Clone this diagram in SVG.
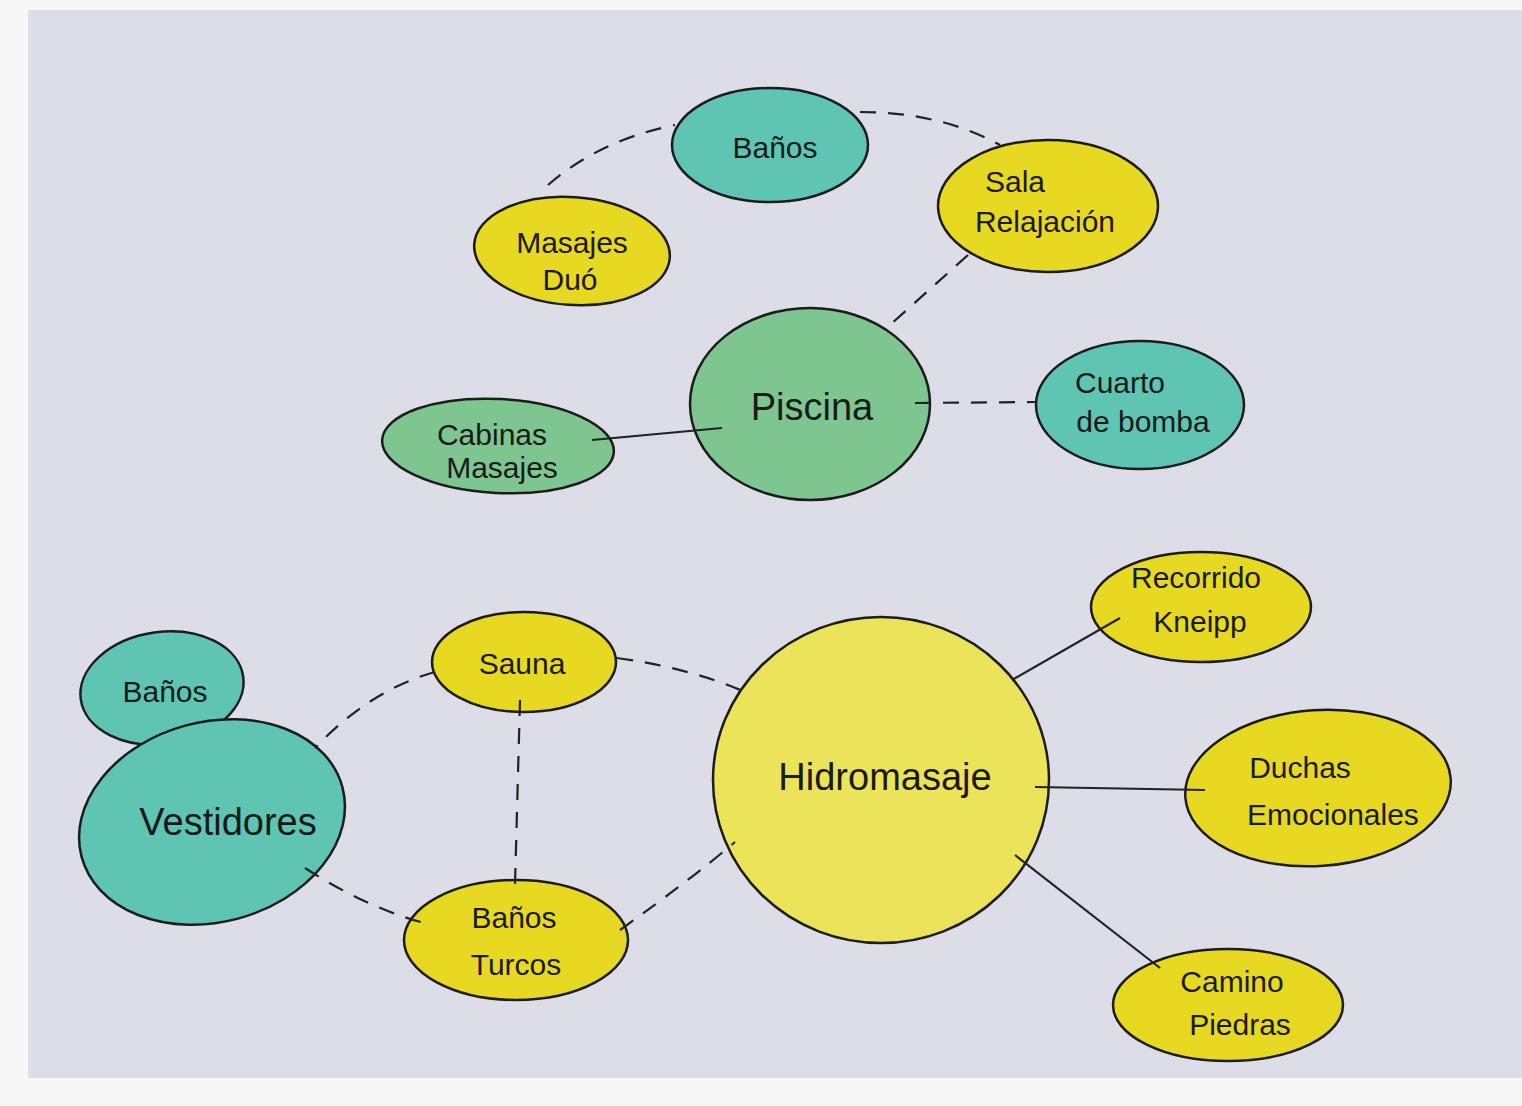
<svg xmlns="http://www.w3.org/2000/svg" width="1522" height="1106" viewBox="0 0 1522 1106">
<defs>
<style>
.node{stroke:#1c1c1c;stroke-width:2.5}
.y{fill:#e7d922}
.y2{fill:#ebe35a}
.t{fill:#5ec5b3}
.g{fill:#7ec690}
.lbl{font-family:"Liberation Sans","DejaVu Sans",sans-serif;font-size:30px;fill:#1a1a1a;text-anchor:middle}
.big{font-size:38px}
.dash{fill:none;stroke:#222;stroke-width:2.2;stroke-dasharray:16 12}
.solid{fill:none;stroke:#222;stroke-width:2.2}
</style>
</defs>
<rect x="0" y="0" width="1522" height="1106" fill="#f7f7f8"/>
<rect x="28" y="10" width="1494" height="1068" fill="#dcdde6"/>

<g id="n-banos-top">
<ellipse class="node t" cx="770" cy="145" rx="98" ry="57"/>
<text class="lbl" x="775" y="158">Baños</text>
</g>
<g id="n-masajes-duo">
<ellipse class="node y" cx="572" cy="251" rx="98" ry="54" transform="rotate(4 572 251)"/>
<text class="lbl" x="572" y="253">Masajes</text>
<text class="lbl" x="570" y="290">Duó</text>
</g>
<g id="n-sala-relajacion">
<ellipse class="node y" cx="1048" cy="206" rx="110" ry="66"/>
<text class="lbl" x="1015" y="192">Sala</text>
<text class="lbl" x="1045" y="232">Relajación</text>
</g>
<g id="n-piscina">
<ellipse class="node g" cx="810" cy="404" rx="120" ry="96"/>
<text class="lbl big" x="812" y="420">Piscina</text>
</g>
<g id="n-cabinas-masajes">
<ellipse class="node g" cx="498" cy="446" rx="116" ry="47" transform="rotate(3 498 446)"/>
<text class="lbl" x="492" y="445">Cabinas</text>
<text class="lbl" x="502" y="478">Masajes</text>
</g>
<g id="n-cuarto-bomba">
<ellipse class="node t" cx="1140" cy="405" rx="104" ry="64"/>
<text class="lbl" x="1120" y="393">Cuarto</text>
<text class="lbl" x="1143" y="432">de bomba</text>
</g>

<g id="n-banos-bottom">
<ellipse class="node t" cx="162" cy="688" rx="82" ry="56" transform="rotate(-8 162 688)"/>
<text class="lbl" x="165" y="702">Baños</text>
</g>
<g id="n-vestidores">
<ellipse class="node t" cx="212" cy="822" rx="135" ry="100" transform="rotate(-15 212 822)"/>
<text class="lbl big" x="228" y="835">Vestidores</text>
</g>
<g id="n-sauna">
<ellipse class="node y" cx="524" cy="662" rx="92" ry="50"/>
<text class="lbl" x="522" y="674">Sauna</text>
</g>
<g id="n-banos-turcos">
<ellipse class="node y" cx="516" cy="940" rx="112" ry="60"/>
<text class="lbl" x="514" y="928">Baños</text>
<text class="lbl" x="516" y="975">Turcos</text>
</g>
<g id="n-hidromasaje">
<ellipse class="node y2" cx="881" cy="780" rx="168" ry="163"/>
<text class="lbl big" x="885" y="790">Hidromasaje</text>
</g>
<g id="n-recorrido-kneipp">
<ellipse class="node y" cx="1201" cy="607" rx="110" ry="55"/>
<text class="lbl" x="1196" y="588">Recorrido</text>
<text class="lbl" x="1200" y="632">Kneipp</text>
</g>
<g id="n-duchas-emocionales">
<ellipse class="node y" cx="1318" cy="788" rx="133" ry="78" transform="rotate(-4 1318 788)"/>
<text class="lbl" x="1300" y="778">Duchas</text>
<text class="lbl" x="1333" y="825">Emocionales</text>
</g>
<g id="n-camino-piedras">
<ellipse class="node y" cx="1228" cy="1005" rx="115" ry="56"/>
<text class="lbl" x="1232" y="992">Camino</text>
<text class="lbl" x="1240" y="1035">Piedras</text>
</g>

<g id="connectors">
<path class="dash" d="M548,185 Q600,140 675,125"/>
<path class="dash" d="M860,112 Q940,112 1000,145"/>
<path class="dash" d="M968,255 L890,325"/>
<path class="dash" d="M915,403 L1035,402"/>
<path class="solid" d="M592,440 L722,428"/>
<path class="dash" d="M435,672 Q370,690 315,748"/>
<path class="dash" d="M305,868 Q370,910 432,925"/>
<path class="dash" d="M520,700 L515,885"/>
<path class="dash" d="M617,658 Q690,668 745,692"/>
<path class="dash" d="M620,930 Q690,880 735,842"/>
<path class="solid" d="M1012,680 L1120,618"/>
<path class="solid" d="M1035,787 L1205,790"/>
<path class="solid" d="M1015,855 L1160,968"/>
</g>
</svg>
